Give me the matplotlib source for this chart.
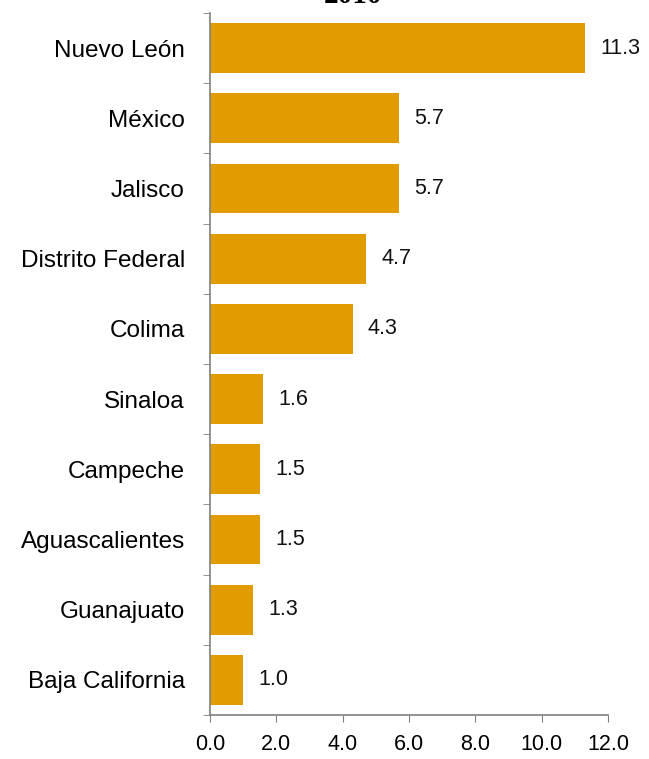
import matplotlib.pyplot as plt
import numpy as np

states = ['Nuevo León', 'México', 'Jalisco', 'Distrito Federal', 'Colima',
          'Sinaloa', 'Campeche', 'Aguascalientes', 'Guanajuato', 'Baja California']
values = [11.3, 5.7, 5.7, 4.7, 4.3, 1.6, 1.5, 1.5, 1.3, 1.0]
title = '2010'

plt.rcParams['font.family'] = ['Liberation Sans', 'DejaVu Sans']

fig = plt.figure(figsize=(6.49, 7.59), dpi=100)
ax = fig.add_axes([210 / 649, 44 / 759, 398 / 649, 702 / 759])

y = np.arange(len(states))[::-1]
ax.barh(y, values, height=0.71, color='#E09C00')

for yi, v in zip(y, values):
    ax.annotate('%.1f' % v, (v, yi), xytext=(11, 0), textcoords='offset points',
                va='center', ha='left', fontsize=15.5, color='#111111')

ax.set_xlim(0, 12)
ax.set_ylim(-0.5, len(states) - 0.5)
ticks = np.arange(0, 12.1, 2)
ax.set_xticks(ticks)
ax.set_xticklabels(['%.1f' % t for t in ticks], fontsize=15.5)
ax.set_yticks(y)
ax.set_yticklabels(states, fontsize=17.5)
ax.set_yticks(np.arange(-0.5, len(states), 1), minor=True)

ax.tick_params(axis='y', which='major', length=0, pad=18)
ax.tick_params(axis='y', which='minor', length=5, color='#808080', direction='out')
ax.tick_params(axis='x', length=5, color='#808080', pad=9)

for s in ['top', 'right']:
    ax.spines[s].set_visible(False)
for s in ['left', 'bottom']:
    ax.spines[s].set_color('#808080')
    ax.spines[s].set_linewidth(1.2)

# title sits mostly above the top edge, as in the source image
fig.text(353 / 649, 1 - 3 / 759, title, ha='center', va='baseline',
         fontsize=21, fontweight='bold', family=['Liberation Serif', 'DejaVu Serif'])

fig.savefig('out.png', dpi=100)
